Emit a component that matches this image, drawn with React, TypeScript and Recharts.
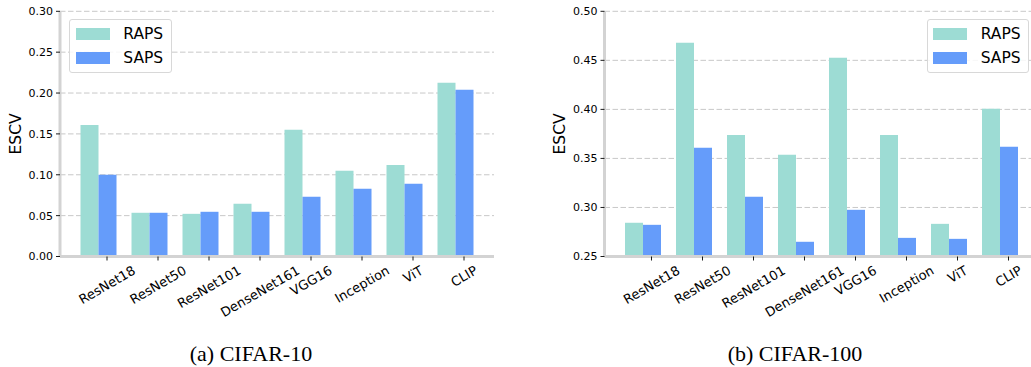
import React from 'react';
import { BarChart, Bar, XAxis, YAxis, CartesianGrid, Legend } from 'recharts';

const models = ['ResNet18', 'ResNet50', 'ResNet101', 'DenseNet161', 'VGG16', 'Inception', 'ViT', 'CLIP'];
const raps10 = [0.161, 0.0535, 0.0522, 0.0645, 0.155, 0.105, 0.112, 0.2125];
const saps10 = [0.1, 0.0535, 0.0547, 0.0547, 0.073, 0.083, 0.089, 0.204];
const raps100 = [0.2844, 0.468, 0.374, 0.3537, 0.4527, 0.374, 0.2833, 0.4007];
const saps100 = [0.2823, 0.361, 0.311, 0.265, 0.2976, 0.269, 0.268, 0.3619];
const ticks10 = [0, 0.05, 0.1, 0.15, 0.2, 0.25, 0.3];
const ticks100 = [0.25, 0.3, 0.35, 0.4, 0.45, 0.5];
const seriesNames = ['RAPS', 'SAPS'];
const captions = ['(a) CIFAR-10', '(b) CIFAR-100'];
const yLabel = 'ESCV';

const RAPS_COLOR = '#9ddcd4';
const SAPS_COLOR = '#659cfa';
const FRAME = '#d3d3d3';
const TICK_SHIFT = 8.5;
const PLOT_TOP = 11.3;
const PLOT_H = 245.2;

let ctx: CanvasRenderingContext2D | null = null;
const measure = (s: string, font: string): number => {
  if (!ctx) ctx = document.createElement('canvas').getContext('2d');
  if (!ctx) return s.length * 7;
  ctx.font = font;
  return ctx.measureText(s).width;
};

const XTick = (props: any) => {
  const { x, y, payload } = props;
  const tx = x + TICK_SHIFT;
  const fs = 13;
  const w = measure(String(payload.value), `${fs}px "DejaVu Sans"`);
  const top = y + 8.5;
  const cy = top + (w * 0.5 + 0.73 * fs * 0.866) / 2;
  return (
    <g>
      <line x1={tx} y1={y} x2={tx} y2={y + 4} stroke="#000" strokeWidth={0.9} />
      <text
        x={tx}
        y={cy}
        dy={0.36 * fs}
        textAnchor="middle"
        fontSize={fs}
        fontFamily="DejaVu Sans"
        fill="#000"
        transform={`rotate(-30 ${tx} ${cy})`}
      >
        {payload.value}
      </text>
    </g>
  );
};

const LegendBox = (props: any) => {
  const { payload } = props;
  return (
    <div
      style={{
        boxSizing: 'border-box',
        width: 102.4,
        height: 54,
        border: '1px solid #d8d8d8',
        borderRadius: 3,
        background: 'rgba(255,255,255,0.85)',
        paddingTop: 1.2,
        paddingLeft: 5.7,
      }}
    >
      {(payload || []).map((p: any) => (
        <div key={p.value} style={{ display: 'flex', alignItems: 'center', height: 24.6 }}>
          <span style={{ display: 'inline-block', width: 34, height: 12, background: p.color }} />
          <span
            style={{
              marginLeft: 13.3,
              fontSize: 15.5,
              fontFamily: 'DejaVu Sans',
              color: '#000',
              lineHeight: '18px',
            }}
          >
            {p.value}
          </span>
        </div>
      ))}
    </div>
  );
};

type PanelProps = {
  raps: number[];
  saps: number[];
  ticks: number[];
  yAxisWidth: number;
  marginRight: number;
  legendLeft: number;
  labelX: number;
};

const Panel = ({ raps, saps, ticks, yAxisWidth, marginRight, legendLeft, labelX }: PanelProps) => {
  const data = models.map((m, i) => ({ model: m, [seriesNames[0]]: raps[i], [seriesNames[1]]: saps[i] }));
  const domain: [number, number] = [ticks[0], ticks[ticks.length - 1]];
  const frameLine = { stroke: FRAME, strokeWidth: 3 };
  return (
    <BarChart
      width={520}
      height={367}
      data={data}
      margin={{ top: PLOT_TOP, right: marginRight, bottom: 50.5, left: 0 }}
      barCategoryGap={7.5}
      barGap={0}
    >
      <CartesianGrid vertical={false} stroke="#c8c8c8" strokeDasharray="5.5 2.5" strokeWidth={1} />
      <Bar dataKey={seriesNames[0]} fill={RAPS_COLOR} isAnimationActive={false} />
      <Bar dataKey={seriesNames[1]} fill={SAPS_COLOR} isAnimationActive={false} />
      <XAxis
        dataKey="model"
        height={60}
        padding={{ left: 13, right: 13 }}
        tickLine={false}
        tickSize={0}
        tickMargin={0}
        interval={0}
        axisLine={frameLine}
        tick={<XTick />}
      />
      <XAxis xAxisId="top" orientation="top" height={0} tick={false} tickLine={false} axisLine={frameLine} />
      <YAxis
        width={yAxisWidth}
        domain={domain}
        ticks={ticks}
        type="number"
        interval={0}
        tickSize={4}
        tickMargin={3}
        tickLine={{ stroke: '#000', strokeWidth: 0.9 }}
        axisLine={frameLine}
        tick={{ fontSize: 11, fill: '#000', fontFamily: 'DejaVu Sans' }}
        tickFormatter={(v: number) => v.toFixed(2)}
        label={{
          content: () => {
            const cx = labelX;
            const cy = PLOT_TOP + PLOT_H / 2;
            return (
              <text
                x={cx}
                y={cy}
                textAnchor="middle"
                fontSize={15.5}
                fontFamily="DejaVu Sans"
                fill="#000"
                transform={`rotate(-90 ${cx} ${cy})`}
              >
                {yLabel}
              </text>
            );
          },
        }}
      />
      <YAxis yAxisId="right" orientation="right" width={0} tick={false} tickLine={false} axisLine={frameLine} />
      <Legend
        layout="vertical"
        align="center"
        verticalAlign="middle"
        content={<LegendBox />}
        wrapperStyle={{ left: legendLeft, top: 19.3, width: 102.4, height: 54 }}
      />
    </BarChart>
  );
};

const Caption = ({ text, cx }: { text: string; cx: number }) => (
  <div
    style={{
      position: 'absolute',
      left: cx - 150,
      width: 300,
      top: 343.3,
      textAlign: 'center',
      fontFamily: '"Liberation Serif", "Times New Roman", serif',
      fontSize: 22,
      lineHeight: '22px',
      color: '#000',
      whiteSpace: 'nowrap',
    }}
  >
    {text}
  </div>
);

export default function App() {
  return (
    <div
      style={{
        position: 'fixed',
        left: 0,
        top: 0,
        width: 1031,
        height: 367,
        overflow: 'hidden',
        background: '#fff',
      }}
    >
      <div style={{ position: 'absolute', left: 0, top: 0, width: 520, height: 367 }}>
        <Panel
          raps={raps10}
          saps={saps10}
          ticks={ticks10}
          yAxisWidth={60}
          marginRight={26}
          legendLeft={69.3}
          labelX={21}
        />
      </div>
      <div style={{ position: 'absolute', left: 520, top: 0, width: 520, height: 367 }}>
        <Panel
          raps={raps100}
          saps={saps100}
          ticks={ticks100}
          yAxisWidth={84.5}
          marginRight={1.5}
          legendLeft={406.7}
          labelX={45.5}
        />
      </div>
      <Caption text={captions[0]} cx={251} />
      <Caption text={captions[1]} cx={795} />
    </div>
  );
}
